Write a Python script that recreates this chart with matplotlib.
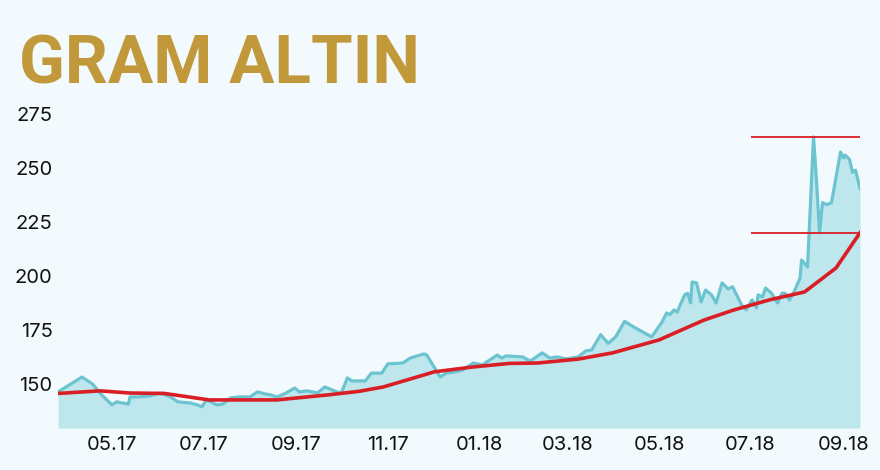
import matplotlib
matplotlib.use("Agg")
import matplotlib.pyplot as plt
import matplotlib.dates as mdates
import numpy as np
import pandas as pd

# ---- data ----
price_dates = [
    "2017-03-26", "2017-04-11", "2017-04-18", "2017-04-24", "2017-05-01", "2017-05-04",
    "2017-05-12", "2017-05-13", "2017-05-18", "2017-05-26", "2017-06-02", "2017-06-09",
    "2017-06-14", "2017-06-22", "2017-06-27", "2017-06-30", "2017-07-03", "2017-07-10",
    "2017-07-14", "2017-07-19", "2017-07-25", "2017-08-01", "2017-08-06", "2017-08-11",
    "2017-08-15", "2017-08-19", "2017-08-24", "2017-08-31", "2017-09-03", "2017-09-08",
    "2017-09-12", "2017-09-15", "2017-09-20", "2017-09-25", "2017-09-28", "2017-10-01",
    "2017-10-05", "2017-10-08", "2017-10-12", "2017-10-17", "2017-10-21", "2017-10-28",
    "2017-11-01", "2017-11-11", "2017-11-16", "2017-11-25", "2017-11-27", "2017-12-06",
    "2017-12-10", "2017-12-16", "2017-12-21", "2017-12-28", "2018-01-03", "2018-01-13",
    "2018-01-16", "2018-01-19", "2018-01-30", "2018-02-04", "2018-02-07", "2018-02-12",
    "2018-02-17", "2018-02-22", "2018-02-28", "2018-03-08", "2018-03-13", "2018-03-17",
    "2018-03-23", "2018-03-28", "2018-04-02", "2018-04-08", "2018-04-14", "2018-04-26",
    "2018-05-03", "2018-05-06", "2018-05-08", "2018-05-11", "2018-05-13", "2018-05-18",
    "2018-05-20", "2018-05-22", "2018-05-23", "2018-05-26", "2018-05-29", "2018-06-01",
    "2018-06-05", "2018-06-08", "2018-06-12", "2018-06-16", "2018-06-19", "2018-06-25",
    "2018-06-28", "2018-07-02", "2018-07-05", "2018-07-06", "2018-07-09", "2018-07-11",
    "2018-07-15", "2018-07-19", "2018-07-22", "2018-07-24", "2018-07-27", "2018-07-30",
    "2018-08-03", "2018-08-04", "2018-08-08", "2018-08-12", "2018-08-14", "2018-08-16",
    "2018-08-18", "2018-08-21", "2018-08-24", "2018-08-30", "2018-09-01", "2018-09-02",
    "2018-09-05", "2018-09-07", "2018-09-09", "2018-09-12",
]
price_values = [
    146.3, 153.2, 150.0, 145.0, 140.3, 141.7,
    140.7, 144.0, 144.0, 144.4, 145.8, 144.0,
    141.7, 141.2, 140.3, 139.4, 142.6, 140.3,
    140.7, 143.5, 144.0, 144.0, 146.3, 145.4,
    144.9, 144.0, 145.4, 148.1, 146.3, 146.8,
    146.3, 145.8, 148.6, 147.2, 146.3, 145.8,
    152.8, 151.4, 151.4, 151.4, 155.0, 155.0,
    159.3, 159.7, 162.0, 163.9, 163.4, 153.2,
    155.0, 155.6, 156.5, 159.7, 158.8, 163.4,
    162.0, 163.0, 162.5, 160.6, 162.0, 164.4,
    162.0, 162.5, 161.6, 162.5, 165.3, 165.7,
    172.8, 168.8, 171.8, 179.0, 176.4, 171.8,
    178.7, 182.9, 182.0, 184.3, 183.3, 191.2,
    192.0, 187.5, 197.2, 196.8, 188.0, 193.5,
    191.2, 187.5, 196.8, 194.0, 195.0, 186.6,
    184.3, 188.9, 185.2, 191.2, 190.3, 194.4,
    192.0, 187.5, 192.0, 192.0, 188.9, 192.6,
    199.0, 207.4, 204.2, 264.4, 244.0, 220.0,
    234.0, 233.0, 234.0, 257.4, 254.6, 256.0,
    254.0, 248.0, 249.0, 240.7,
]
avg_dates = [
    "2017-03-26", "2017-04-23", "2017-05-13", "2017-06-05", "2017-07-05", "2017-08-19",
    "2017-09-23", "2017-10-13", "2017-10-29", "2017-12-02", "2017-12-27", "2018-01-21",
    "2018-02-09", "2018-03-08", "2018-03-31", "2018-05-01", "2018-05-31", "2018-06-20",
    "2018-07-14", "2018-08-06", "2018-08-27", "2018-09-12",
]
avg_values = [
    145.6, 146.8, 145.8, 145.6, 142.6, 142.6,
    145.0, 146.6, 148.6, 155.6, 157.8, 159.5,
    159.7, 161.5, 164.4, 170.4, 179.6, 184.3,
    189.0, 192.6, 203.7, 220.0,
]
month_ticks = ["2017-05-01", "2017-07-01", "2017-09-01", "2017-11-01", "2018-01-01",
               "2018-03-01", "2018-05-01", "2018-07-01", "2018-09-01"]
y_ticks = [150, 175, 200, 225, 250, 275]
title = "GRAM ALTIN"

# ---- style ----
bg = "#f3fafd"
fill_c = "#bde7ed"
line_c = "#6cc4d1"
red_c = "#d91e25"
gold = "#c2993a"

pd_dates = pd.to_datetime(price_dates)
pa_dates = pd.to_datetime(avg_dates)
px = mdates.date2num(pd_dates)
ax_x = mdates.date2num(pa_dates)

fig = plt.figure(figsize=(8.8, 4.7), dpi=100, facecolor=bg)
ax = fig.add_axes([58 / 880, 42 / 470, 802 / 880, 314 / 470])
ax.set_facecolor(bg)

ymin, ymax = 129.6, 275.0
ax.fill_between(px, price_values, ymin, color=fill_c, lw=0, zorder=1)
ax.plot(px, price_values, color=line_c, lw=2.3, zorder=2)
ax.plot(ax_x, avg_values, color=red_c, lw=2.6, zorder=3)

# horizontal reference lines
xmax = mdates.date2num(pd.Timestamp("2018-09-12"))
xmin_line = mdates.date2num(pd.Timestamp("2018-07-01"))
ax.hlines([max(price_values), avg_values[-1]], xmin_line, xmax, color=red_c, lw=1.3, zorder=4)

ax.set_xlim(mdates.date2num(pd.Timestamp("2017-03-26")), xmax)
ax.set_ylim(ymin, ymax)

ax.set_xticks(mdates.date2num(pd.to_datetime(month_ticks)))
ax.xaxis.set_major_formatter(mdates.DateFormatter("%m.%y"))
ax.set_yticks(y_ticks)
ax.tick_params(axis="both", length=0, labelsize=14.5, labelcolor="#111111")
ax.tick_params(axis="x", pad=6)
ax.tick_params(axis="y", pad=4)
for lab in ax.get_xticklabels() + ax.get_yticklabels():
    lab.set_fontfamily("Inter")
for s in ax.spines.values():
    s.set_visible(False)

fig.text(19 / 880, 1 - 84 / 470, title, color=gold, fontsize=48.5, fontweight="bold",
         family="Roboto", ha="left", va="baseline")

fig.savefig("out.png", dpi=100, facecolor=bg)
